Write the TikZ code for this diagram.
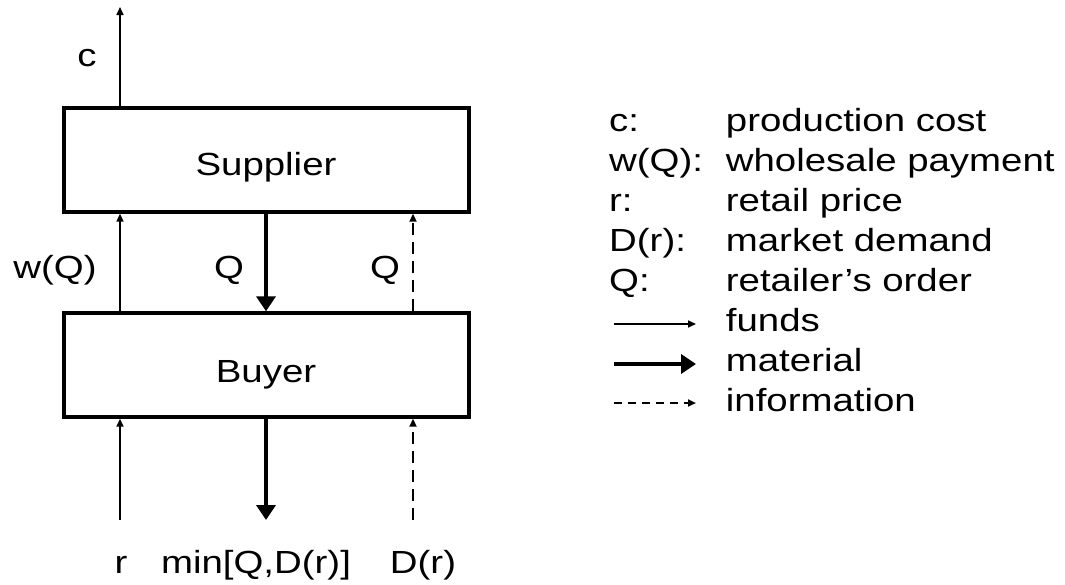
\documentclass[tikz,border=0pt]{standalone}
\usepackage{fontspec}
\setmainfont[FakeStretch=1.2]{Liberation Sans}
\usetikzlibrary{arrows.meta}
\tikzset{
  block/.style={draw, line width=3.4pt, minimum width=405pt, minimum height=104pt, inner sep=0pt},
  funds/.style={line width=1.6pt, -{Triangle[length=8pt,width=7pt]}},
  material/.style={line width=4.5pt, -{Triangle[length=15pt,width=19pt]}},
  info/.style={line width=2.6pt, dash pattern=on 12pt off 7pt, -{Triangle[length=8pt,width=7pt]}},
  legendinfo/.style={line width=2.2pt, dash pattern=on 8pt off 6pt, -{Triangle[length=8pt,width=7pt]}},
  lbl/.style={anchor=base, inner sep=0pt},
  lgl/.style={anchor=base west, inner sep=0pt}
}
\begin{document}
\begin{tikzpicture}[x=1pt,y=-1pt,font=\fontsize{32}{38}\selectfont]
\useasboundingbox (0,0) rectangle (1065,584);
% blocks
\node[block] (sup) at (266.5,160) {};
\node[lbl] (suptxt) at (266,175) {Supplier};
\node[block] (buy) at (266.5,365) {};
\node[lbl] (buytxt) at (266,382) {Buyer};
% free ends
\coordinate (top) at (120,7);
\coordinate (bl) at (120,520);
\coordinate (bm) at (266,520);
\coordinate (br) at (413,520);
% connectors
\draw[funds] (sup.north -| top) -- (top);
\draw[funds] (buy.north -| top) -- (sup.south -| top);
\draw[material] (sup.south -| bm) -- (buy.north -| bm);
\draw[info] (buy.north -| br) -- (sup.south -| br);
\draw[funds] (bl) -- (buy.south -| bl);
\draw[material] (buy.south -| bm) -- (bm);
\draw[info] (br) -- (buy.south -| br);
% labels
\node[lbl] (lc) at (87,66.7) {c};
\node[lbl] (lw) at (55,278) {w(Q)};
\node[lbl] (lq1) at (229,278) {Q};
\node[lbl] (lq2) at (385,278) {Q};
\node[lbl] (lr) at (121,573) {r};
\node[lbl] (lmin) at (256,573) {min[Q,D(r)]};
\node[lbl] (ld) at (423,573) {D(r)};
% legend
\node[lgl] (k1) at (609,131.7) {c:};
\node[lgl] (v1) at (725.7,131.7) {production cost};
\node[lgl] (k2) at (609,171.7) {w(Q):};
\node[lgl] (v2) at (725.7,171.7) {wholesale payment};
\node[lgl] (k3) at (609,211.7) {r:};
\node[lgl] (v3) at (725.7,211.7) {retail price};
\node[lgl] (k4) at (609,251.7) {D(r):};
\node[lgl] (v4) at (725.7,251.7) {market demand};
\node[lgl] (k5) at (609,291.7) {Q:};
\node[lgl] (v5) at (725.7,291.7) {retailer’s order};
\node[lgl] (v6) at (725.7,331.7) {funds};
\node[lgl] (v7) at (725.7,371.7) {material};
\node[lgl] (v8) at (725.7,411.7) {information};
\coordinate (a1) at (614,324);
\coordinate (b1) at (696,324);
\coordinate (a2) at (614,364);
\coordinate (b2) at (696,364);
\coordinate (a3) at (614,403);
\coordinate (b3) at (696,403);
\draw[funds] (a1) -- (b1);
\draw[material] (a2) -- (b2);
\draw[legendinfo] (a3) -- (b3);
\end{tikzpicture}
\end{document}
